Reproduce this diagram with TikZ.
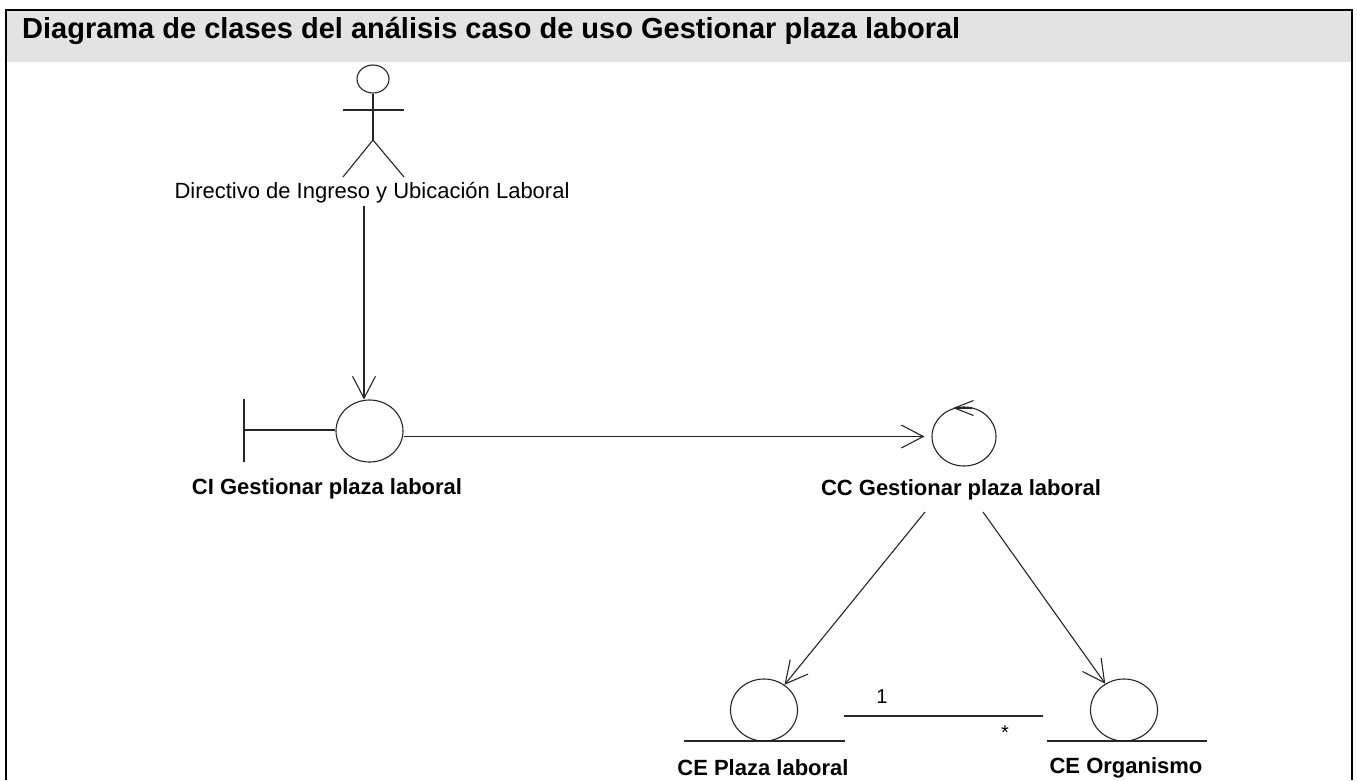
\documentclass[tikz,border=0pt]{standalone}
\usepackage{fontspec}
\setmainfont{Liberation Sans}
\usetikzlibrary{arrows.meta,shapes.geometric}

\begin{document}
\begin{tikzpicture}[x=1pt,y=-1pt,
    ellipse_node/.style={ellipse,draw=black!85,inner sep=0pt,line width=1.1pt},
    circle_node/.style={ellipse_node,minimum width=67pt,minimum height=62pt},
    name_node/.style={font=\fontsize{22}{24}\selectfont\bfseries,inner sep=0pt},
    plain_line/.style={draw=black!85,line width=1.1pt},
    assoc/.style={plain_line,-{Straight Barb[length=22pt,width=23pt,line width=1.1pt]}}]

    \useasboundingbox (0,0) rectangle (1357,780);
    \fill[white] (0,0) rectangle (1357,780);
    \fill[black!11] (6,10) rectangle (1352,62);
    \draw[line width=2.2pt] (6,780) -- (6,10) -- (1352,10) -- (1352,780);
    \node[anchor=west,inner sep=0pt,font=\fontsize{29}{32}\selectfont\bfseries] (title) at (22,31) {Diagrama de clases del análisis caso de uso Gestionar plaza laboral};

    % actor
    \node[ellipse_node,minimum width=32pt,minimum height=28pt] (head) at (373,79) {};
    \coordinate (hip) at (373,140);
    \coordinate (armL) at (343,110);
    \coordinate (armR) at (404,110);
    \coordinate (legL) at (343,177);
    \coordinate (legR) at (404,177);
    \draw[plain_line] (head) -- (hip);
    \draw[plain_line] (armL) -- (armR);
    \draw[plain_line] (legL) -- (hip) -- (legR);
    \node[inner sep=0pt,font=\fontsize{22}{24}\selectfont] (actor) at (372,193) {Directivo de Ingreso y Ubicación Laboral};

    % boundary
    \node[circle_node] (ci) at (369.5,431) {};
    \coordinate (bar) at (244,430);
    \coordinate (bar_top) at (244,399);
    \coordinate (bar_bot) at (244,462);
    \draw[plain_line] (bar_top) -- (bar_bot);
    \draw[plain_line] (bar) -- (bar -| ci.west);
    \node[name_node] (ci_name) at (327,489) {CI Gestionar plaza laboral};

    % control
    \node[ellipse_node,minimum width=64pt,minimum height=59pt] (cc) at (964,436.5) {};
    \coordinate (loop_a) at (972,408);
    \coordinate (loop_b) at (953,408);
    \draw[plain_line,-{Straight Barb[length=19pt,width=15pt,line width=1.1pt]}] (loop_a) -- (loop_b);
    \node[name_node] (cc_name) at (961,490) {CC Gestionar plaza laboral};

    % entities
    \node[circle_node] (pl) at (764,710) {};
    \coordinate (pl_a) at (684,741);
    \coordinate (pl_b) at (845,741);
    \draw[plain_line] (pl_a) -- (pl_b);
    \node[name_node] (pl_name) at (763,768) {CE Plaza laboral};
    \node[circle_node] (org) at (1124,710) {};
    \coordinate (org_a) at (1047,741);
    \coordinate (org_b) at (1207,741);
    \draw[plain_line] (org_a) -- (org_b);
    \node[name_node] (org_name) at (1126,768) {CE Organismo};

    % connectors
    \coordinate (actor_out) at (364,206);
    \coordinate (cc_out_l) at (925,512);
    \coordinate (cc_out_r) at (983,512);
    \draw[assoc] (actor_out) -- (actor_out |- ci.north);
    \draw[assoc,shorten >=7pt] (ci.east |- cc.west) -- (cc.west);
    \draw[assoc] (cc_out_l) -- (pl);
    \draw[assoc] (cc_out_r) -- (org);
    \coordinate (link_a) at (844,716);
    \coordinate (link_b) at (1043,716);
    \draw[plain_line] (link_a) -- (link_b);
    \node[font=\fontsize{20}{22}\selectfont,inner sep=0pt] (one) at (882,697) {1};
    \node[font=\fontsize{20}{22}\selectfont,inner sep=0pt] (many) at (1005,733) {*};
\end{tikzpicture}
\end{document}
